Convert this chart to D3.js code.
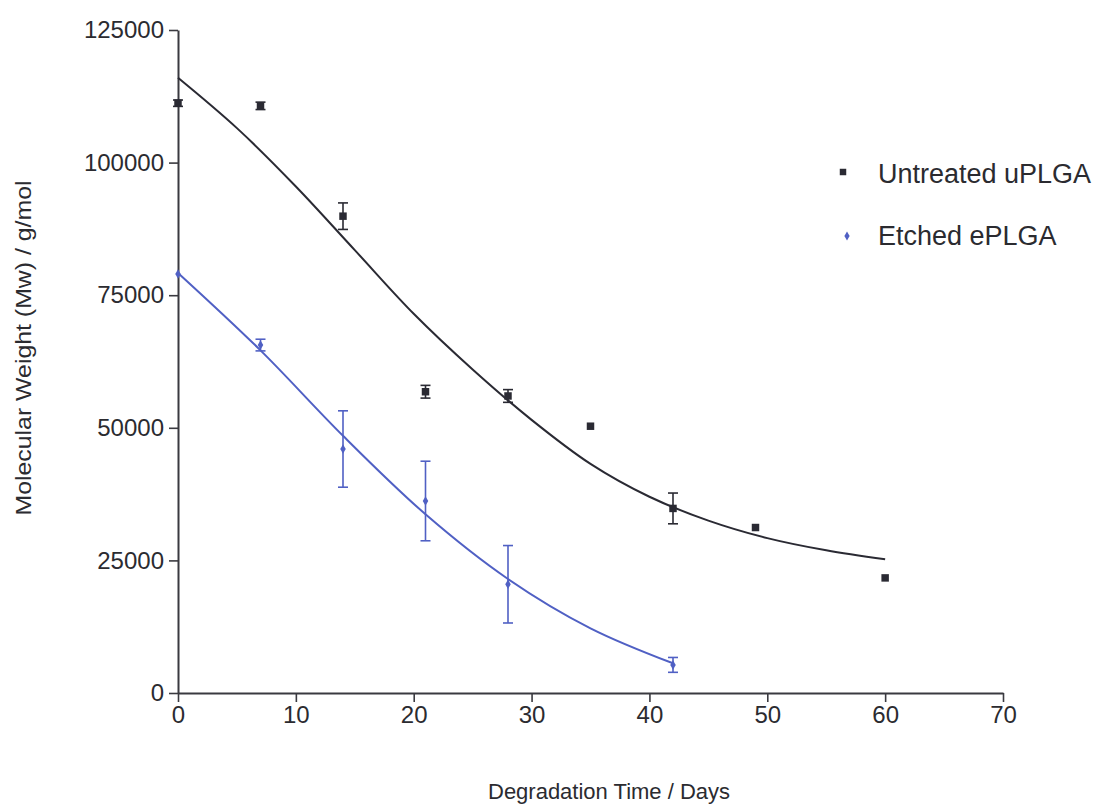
<!DOCTYPE html>
<html>
<head>
<meta charset="utf-8">
<script src="https://cdn.jsdelivr.net/npm/d3@7"></script>
<style>
  html, body { margin: 0; padding: 0; background: #ffffff; }
  svg { display: block; }
  text { font-family: "Liberation Sans", Arial, sans-serif; fill: #2b2b30; }
</style>
</head>
<body>
<svg id="chart" width="1099" height="804"></svg>
<script>
// ---- data ----
const xTicks = [0, 10, 20, 30, 40, 50, 60, 70];
const yTicks = [0, 25000, 50000, 75000, 100000, 125000];

const untreatedDays = [0, 7, 14, 21, 28, 35, 42, 49, 60];
const untreatedMw   = [111200, 110700, 89900, 56800, 56000, 50300, 34800, 31200, 21700];
const untreatedErr  = [600, 700, 2500, 1200, 1200, 0, 2900, 0, 0];

const etchedDays = [0, 7, 14, 21, 28, 42];
const etchedMw   = [79000, 65600, 46000, 36200, 20500, 5300];
const etchedErr  = [0, 1100, 7200, 7500, 7300, 1400];

// fitted curves, points
const untreatedFitDays = [0, 5, 10, 15, 20, 25, 30, 35, 40, 45, 50, 55, 60];
const untreatedFitMw   = [116000, 106500, 95500, 83500, 71500, 61000, 51500, 43200, 37000, 32500, 29200, 26900, 25200];
const etchedFitDays = [0, 7, 14, 21, 28, 35, 42];
const etchedFitMw   = [79200, 64600, 48500, 33700, 21500, 12200, 5600];

const seriesNames = ["Untreated uPLGA", "Etched ePLGA"];

// ---- drawing ----
const svg = d3.select("#chart");
const dark = "#2a2a33";
const blue = "#5060c4";
const axisColor = "#3a3a40";
const font = "'Liberation Sans', Arial, sans-serif";

const x = d3.scaleLinear().domain([0, 70]).range([178, 1003]);
const y = d3.scaleLinear().domain([0, 125000]).range([693, 30]);

// axes
const xAxis = svg.append("g").attr("transform", `translate(0,${y(0)})`)
  .call(d3.axisBottom(x).tickValues(xTicks).tickSize(9).tickSizeOuter(0).tickPadding(4).tickFormat(d3.format("d")));
const yAxis = svg.append("g").attr("transform", `translate(${x(0)},0)`)
  .call(d3.axisLeft(y).tickValues(yTicks).tickSize(9).tickSizeOuter(0).tickPadding(5).tickFormat(d3.format("d")));
[xAxis, yAxis].forEach(g => {
  g.select(".domain").attr("stroke", axisColor).attr("stroke-width", 2);
  g.selectAll(".tick line").attr("stroke", axisColor).attr("stroke-width", 1.6);
  g.selectAll(".tick text").style("font-size", "24px").style("font-family", font).attr("fill", "#2b2b30");
});

// axis titles
svg.append("text").attr("x", 609).attr("y", 799).attr("text-anchor", "middle")
  .style("font-size", "22px").attr("textLength", 242).attr("lengthAdjust", "spacingAndGlyphs")
  .text("Degradation Time / Days");
svg.append("text").attr("transform", "translate(31,348) rotate(-90)").attr("text-anchor", "middle")
  .style("font-size", "22px").attr("textLength", 335).attr("lengthAdjust", "spacingAndGlyphs")
  .text("Molecular Weight (Mw) / g/mol");

// fit lines
const line = d3.line().x(d => x(d[0])).y(d => y(d[1])).curve(d3.curveCatmullRom.alpha(0.5));
svg.append("path").datum(untreatedFitDays.map((d, i) => [d, untreatedFitMw[i]]))
  .attr("d", line).attr("fill", "none").attr("stroke", dark).attr("stroke-width", 2);
svg.append("path").datum(etchedFitDays.map((d, i) => [d, etchedFitMw[i]]))
  .attr("d", line).attr("fill", "none").attr("stroke", blue).attr("stroke-width", 2);

// error bars
function errorBars(days, vals, errs, color) {
  const g = svg.append("g").attr("stroke", color).attr("stroke-width", 1.6);
  days.forEach((d, i) => {
    if (!errs[i]) return;
    const cx = x(d), y1 = y(vals[i] + errs[i]), y2 = y(vals[i] - errs[i]);
    g.append("line").attr("x1", cx).attr("x2", cx).attr("y1", y1).attr("y2", y2);
    g.append("line").attr("x1", cx - 5).attr("x2", cx + 5).attr("y1", y1).attr("y2", y1);
    g.append("line").attr("x1", cx - 5).attr("x2", cx + 5).attr("y1", y2).attr("y2", y2);
  });
}
errorBars(untreatedDays, untreatedMw, untreatedErr, dark);
errorBars(etchedDays, etchedMw, etchedErr, blue);

// markers
const sq = d3.symbol().type(d3.symbolSquare).size(56);
const dia = d3.symbol().type(d3.symbolDiamond).size(26);
svg.append("g").selectAll("path").data(untreatedDays).join("path")
  .attr("transform", (d, i) => `translate(${x(d)},${y(untreatedMw[i])})`)
  .attr("d", sq).attr("fill", dark);
svg.append("g").selectAll("path").data(etchedDays).join("path")
  .attr("transform", (d, i) => `translate(${x(d)},${y(etchedMw[i])})`)
  .attr("d", dia).attr("fill", blue);

// legend
const leg = svg.append("g");
leg.append("path").attr("transform", "translate(843,172)").attr("d", d3.symbol().type(d3.symbolSquare).size(42)).attr("fill", dark);
leg.append("text").attr("x", 878).attr("y", 183).style("font-size", "27px").text(seriesNames[0]);
leg.append("path").attr("transform", "translate(847,236)").attr("d", d3.symbol().type(d3.symbolDiamond).size(24)).attr("fill", blue);
leg.append("text").attr("x", 878).attr("y", 245).style("font-size", "27px").text(seriesNames[1]);
</script>
</body>
</html>
